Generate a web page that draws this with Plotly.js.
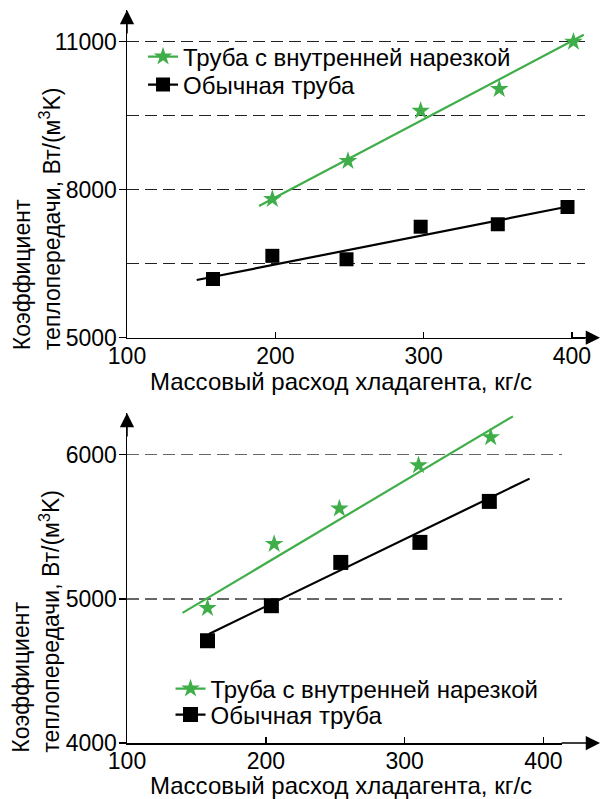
<!DOCTYPE html>
<html><head><meta charset="utf-8">
<script src="https://cdn.plot.ly/plotly-3.0.1.min.js"></script>
<style>html,body{margin:0;padding:0;background:#fff}</style>
</head><body><div id="chart" style="width:603px;height:799px"></div>
<script>
// ---- data ----
const seriesNames = ['Труба с внутренней нарезкой', 'Обычная труба'];
const xTitle = 'Массовый расход хладагента, кг/с';
const yTitle = 'Коэффициент<br>теплопередачи, Вт/(м<sup>3</sup>K)';

// top panel
const topRifledX = [198, 249, 298, 351, 401];
const topRifledY = [7810, 8580, 9600, 10040, 11000];
const topPlainX = [158, 198, 248, 298, 350, 397];
const topPlainY = [6190, 6660, 6590, 7250, 7300, 7650];
const topRifledFitX = [189, 408];
const topRifledFitY = [7670, 11140];
const topPlainFitX = [147, 401];
const topPlainFitY = [6170, 7680];
const topXTicks = [100, 200, 300, 400];
const topYTicks = [5000, 8000, 11000];
const topYTickText = ['5000', '8000', '11000'];
const topYMinorGrid = [6500, 9500];

// bottom panel
const botRifledX = [158, 206, 253, 310, 362];
const botRifledY = [4936, 5380, 5625, 5925, 6120];
const botPlainX = [158, 204, 254, 311, 361];
const botPlainY = [4709, 4952, 5252, 5391, 5675];
const botRifledFitX = [140, 378];
const botRifledFitY = [4902, 6265];
const botPlainFitX = [159, 390];
const botPlainFitY = [4756, 5833];
const botXTicks = [100, 200, 300, 400];
const botYTicks = [4000, 5000, 6000];
const botYTickText = ['4000', '5000', '6000'];

// ---- style ----
const FONT = 'Liberation Sans, Arial, sans-serif';
const GREEN = '#3fae49';
const BLACK = '#000';
const FS_TICK = 23;
const FS_TEXT = 24;
const FS_YT = 23;

function pts(x, y, sym, color, size, xa, ya) {
  return {x, y, xaxis: xa, yaxis: ya, mode: 'markers', showlegend: false, cliponaxis: false,
    marker: {symbol: sym, color, size, line: {width: 0}}, hoverinfo: 'skip'};
}
function fit(x, y, color, xa, ya) {
  return {x, y, xaxis: xa, yaxis: ya, mode: 'lines', showlegend: false,
    line: {color, width: 2.2}, hoverinfo: 'skip'};
}
function leg(name, sym, color, size, xa, ya, lg) {
  return {x: [null], y: [null], xaxis: xa, yaxis: ya, mode: 'lines+markers', name, legend: lg,
    marker: {symbol: sym, color, size}, line: {color, width: 2.2}};
}

const traces = [
  fit(topRifledFitX, topRifledFitY, GREEN, 'x', 'y'),
  fit(topPlainFitX, topPlainFitY, BLACK, 'x', 'y'),
  pts(topRifledX, topRifledY, 'star', GREEN, 14, 'x', 'y'),
  pts(topPlainX, topPlainY, 'square', BLACK, 14, 'x', 'y'),
  leg(seriesNames[0], 'star', GREEN, 14, 'x', 'y', 'legend'),
  leg(seriesNames[1], 'square', BLACK, 14, 'x', 'y', 'legend3'),

  fit(botRifledFitX, botRifledFitY, GREEN, 'x2', 'y2'),
  fit(botPlainFitX, botPlainFitY, BLACK, 'x2', 'y2'),
  pts(botRifledX, botRifledY, 'star', GREEN, 14, 'x2', 'y2'),
  pts(botPlainX, botPlainY, 'square', BLACK, 15, 'x2', 'y2'),
  leg(seriesNames[0], 'star', GREEN, 14, 'x2', 'y2', 'legend2'),
  leg(seriesNames[1], 'square', BLACK, 15, 'x2', 'y2', 'legend4'),
];

const xCommon = {showline: true, linecolor: BLACK, linewidth: 1.5, ticks: 'inside', ticklen: 6,
  tickwidth: 1.5, tickcolor: BLACK, showgrid: false, zeroline: false, tickmode: 'array',
  ticklabelstandoff: -3,
  tickfont: {family: FONT, size: FS_TICK, color: BLACK}, fixedrange: true};
const yCommon = {showline: true, linecolor: BLACK, linewidth: 1.5, ticks: 'outside', ticklen: 7,
  tickwidth: 1.5, tickcolor: BLACK, showgrid: true, zeroline: false, tickmode: 'array',
  ticklabelstandoff: -3,
  griddash: '12px,6px', tickfont: {family: FONT, size: FS_TICK, color: BLACK}, fixedrange: true};

const arrowBase = {text: '', showarrow: true, arrowhead: 2, arrowsize: 1.9, arrowwidth: 1.5,
  arrowcolor: BLACK, axref: 'pixel', ayref: 'pixel', standoff: 0, xref: 'paper', yref: 'paper'};

function legendBox(x, y) {
  return {x, y, xanchor: 'left', yanchor: 'middle', bgcolor: 'rgba(0,0,0,0)',
    font: {family: FONT, size: FS_TEXT, color: BLACK}, tracegroupgap: 0, itemwidth: 30};
}

const layout = {
  width: 603, height: 799,
  margin: {l: 127, r: 18, t: 10, b: 56},
  paper_bgcolor: '#fff', plot_bgcolor: '#fff',
  font: {family: FONT, size: FS_TEXT, color: BLACK},
  xaxis: Object.assign({}, xCommon, {domain: [0, 1], range: [100, 408.8], anchor: 'y', tickvals: topXTicks}),
  yaxis: Object.assign({}, yCommon, {domain: [0.5529, 1], range: [5000, 11643], anchor: 'x',
    tickvals: topYTicks, ticktext: topYTickText, gridcolor: '#222', gridwidth: 1.2,
    minor: {tickmode: 'array', tickvals: topYMinorGrid, showgrid: true, gridcolor: '#222',
      gridwidth: 1.2, griddash: '12px,6px', ticks: ''}}),
  xaxis2: Object.assign({}, xCommon, {domain: [0, 0.9487], range: [100, 413], anchor: 'y2', tickvals: botXTicks}),
  yaxis2: Object.assign({}, yCommon, {domain: [0, 0.4502], range: [4000, 6288], anchor: 'x2',
    tickvals: botYTicks, ticktext: botYTickText, gridcolor: '#666', gridwidth: 1.6}),
  showlegend: true,
  legend: legendBox(0.035, 0.9359),
  legend3: legendBox(0.035, 0.8977),
  legend2: legendBox(0.095, 0.0737),
  legend4: legendBox(0.095, 0.0382),
  annotations: [
    Object.assign({}, arrowBase, {x: 0, y: 1, ax: 0, ay: 25}),
    Object.assign({}, arrowBase, {x: 1.0328, y: 0.5529, ax: -30, ay: 0}),
    Object.assign({}, arrowBase, {x: 0, y: 0.4502, ax: 0, ay: 25}),
    Object.assign({}, arrowBase, {x: 1.0328, y: 0, ax: -40, ay: 0}),
    {text: xTitle, xref: 'paper', yref: 'paper', x: 0.4672, y: 0.4931, xanchor: 'center', yanchor: 'middle',
      showarrow: false, font: {family: FONT, size: FS_TEXT, color: BLACK}},
    {text: xTitle, xref: 'paper', yref: 'paper', x: 0.4672, y: -0.0585, xanchor: 'center', yanchor: 'middle',
      showarrow: false, font: {family: FONT, size: FS_TEXT, color: BLACK}},
    {text: yTitle, xref: 'paper', yref: 'paper', x: -0.1976, y: 0.7153, xanchor: 'center', yanchor: 'middle',
      textangle: -90, align: 'left', showarrow: false, font: {family: FONT, size: FS_YT, color: BLACK}},
    {text: yTitle, xref: 'paper', yref: 'paper', x: -0.1976, y: 0.1662, xanchor: 'center', yanchor: 'middle',
      textangle: -90, align: 'left', showarrow: false, font: {family: FONT, size: FS_YT, color: BLACK}},
  ],
};

Plotly.newPlot('chart', traces, layout, {displayModeBar: false, staticPlot: true});
</script></body></html>
